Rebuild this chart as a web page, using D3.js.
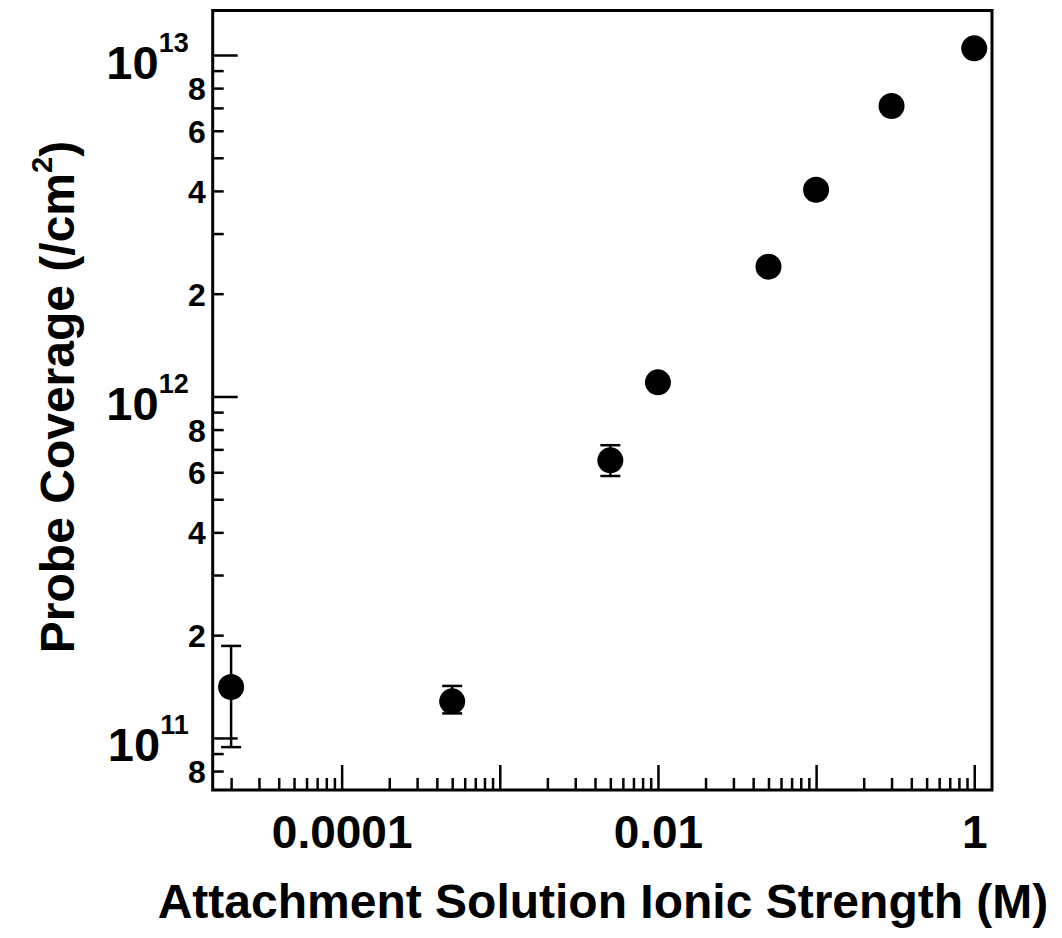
<!DOCTYPE html>
<html>
<head>
<meta charset="utf-8">
<script src="https://cdn.jsdelivr.net/npm/d3@7"></script>
<style>
  body { margin: 0; background: #fff; }
  svg { display: block; }
  .axis path { display: none; }
  .axis line { stroke: #000; stroke-width: 2.5; }
  .axis text, .lbl { font-family: "Liberation Sans", Arial, sans-serif; font-weight: bold; fill: #000; }
</style>
</head>
<body>
<svg id="chart" width="1062" height="938"></svg>
<script>
// data
const ionicStrength = [2e-5, 5e-4, 5e-3, 0.01, 0.05, 0.1, 0.3, 1]
const coverage      = [1.41e11, 1.28e11, 6.5e11, 1.1e12, 2.4e12, 4.03e12, 7.09e12, 1.046e13]
const errLow        = [9.4e10, 1.18e11, 5.85e11, null, null, null, null, null]
const errHigh       = [1.86e11, 1.42e11, 7.2e11, null, null, null, null, null]

const xMajor       = [1e-4, 1e-3, 1e-2, 1e-1, 1]
const xLabels      = {"0.0001": 1e-4, "0.01": 1e-2, "1": 1}
const yExponents   = [11, 12, 13]
const yMinorLabels = [2, 4, 6, 8]

const xDomain = [1.53e-5, 1.295]
const yDomain = [7.04e10, 1.35e13]

// layout
const W = 1062, H = 938
const m = {left: 212.7, right: 70, top: 10.5, bottom: 148}

const svg = d3.select("#chart")

const x = d3.scaleLog().domain(xDomain).range([m.left, W - m.right])
const y = d3.scaleLog().domain(yDomain).range([H - m.bottom, m.top])

// minor ticks: 2..9 inside each decade, kept within domain
function minorTicks(domain) {
    let out = []
    let lo = Math.floor(Math.log10(domain[0])), hi = Math.ceil(Math.log10(domain[1]))
    for (let e = lo; e < hi; e++)
        for (let k = 2; k <= 9; k++) {
            let v = k * Math.pow(10, e)
            if (v >= domain[0] && v <= domain[1]) out.push(v)
        }
    return out
}

const xMinor = minorTicks(xDomain)
const yMinor = minorTicks(yDomain)

// x axis -- minor then major
svg.append("g").attr("class", "axis")
    .attr("transform", `translate(0,${H - m.bottom})`)
    .call(d3.axisBottom(x).tickValues(xMinor).tickSize(-12).tickFormat(""))

let xLabelOf = {}
Object.entries(xLabels).forEach(([k, v]) => xLabelOf[v] = k)

svg.append("g").attr("class", "axis")
    .attr("transform", `translate(0,${H - m.bottom})`)
    .call(d3.axisBottom(x).tickValues(xMajor).tickSize(-25).tickPadding(25)
        .tickFormat(d => xLabelOf[d] || ""))
    .selectAll("text").style("font-size", "46px")

// y axis -- minor with mantissa labels
svg.append("g").attr("class", "axis")
    .attr("transform", `translate(${m.left},0)`)
    .call(d3.axisLeft(y).tickValues(yMinor).tickSize(-11).tickPadding(7)
        .tickFormat(d => {
            let mant = Math.round(d / Math.pow(10, Math.floor(Math.log10(d) + 1e-9)))
            return yMinorLabels.includes(mant) ? mant : ""
        }))
    .selectAll("text").style("font-size", "32px").attr("dy", "0.36em")

// y axis -- decades, 10 with superscript exponent
const yMajorAxis = svg.append("g").attr("class", "axis")
    .attr("transform", `translate(${m.left},0)`)
    .call(d3.axisLeft(y).tickValues(yExponents.map(e => Math.pow(10, e))).tickSize(-25).tickPadding(24)
        .tickFormat(""))

yMajorAxis.selectAll(".tick text").each(function(d) {
    let t = d3.select(this).attr("dy", null).attr("y", 23)
    t.append("tspan").text("10").style("font-size", "47px")
    t.append("tspan").text(Math.round(Math.log10(d)))
        .style("font-size", "27px").attr("dy", -27)
})

// frame
svg.append("rect")
    .attr("x", m.left).attr("y", m.top)
    .attr("width", W - m.right - m.left).attr("height", H - m.bottom - m.top)
    .attr("fill", "none").attr("stroke", "#000").attr("stroke-width", 3)

// error bars
const pts = ionicStrength.map((v, i) => ({x: v, y: coverage[i], lo: errLow[i], hi: errHigh[i]}))
const eb = svg.append("g").attr("stroke", "#000").attr("stroke-width", 2.5)
pts.filter(p => p.lo != null).forEach(p => {
    eb.append("line").attr("x1", x(p.x)).attr("x2", x(p.x)).attr("y1", y(p.lo)).attr("y2", y(p.hi))
    ;[p.lo, p.hi].forEach(v => eb.append("line")
        .attr("x1", x(p.x) - 10).attr("x2", x(p.x) + 10).attr("y1", y(v)).attr("y2", y(v)))
})

// markers
svg.append("g").selectAll("circle").data(pts).join("circle")
    .attr("cx", d => x(d.x)).attr("cy", d => y(d.y)).attr("r", 13).attr("fill", "#000")

// axis titles
svg.append("text").attr("class", "lbl")
    .attr("x", 603).attr("y", 918).attr("text-anchor", "middle")
    .style("font-size", "48px")
    .text("Attachment Solution Ionic Strength (M)")

const yt = svg.append("text").attr("class", "lbl")
    .attr("transform", "translate(74,397) rotate(-90)").attr("text-anchor", "middle")
    .style("font-size", "48px")
yt.append("tspan").text("Probe Coverage (/cm")
yt.append("tspan").text("2").style("font-size", "29px").attr("dy", -22)
yt.append("tspan").text(")").attr("dy", 22)
</script>
</body>
</html>
